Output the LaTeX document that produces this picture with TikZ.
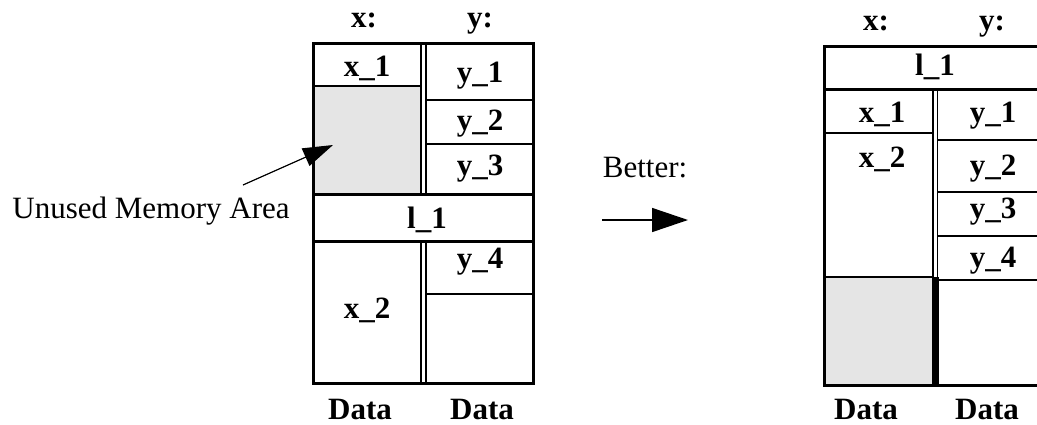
\documentclass[tikz,border=0pt]{standalone}
\usepackage{fontspec}
\setmainfont{Liberation Serif}
\usetikzlibrary{arrows.meta}
\definecolor{unused}{gray}{0.9}
\begin{document}
\begin{tikzpicture}[x=1pt,y=-1pt,
  lbl/.style={inner sep=0pt, anchor=base, font=\fontsize{31}{36}\selectfont\bfseries},
  foot/.style={lbl, text depth=0pt},
  plain/.style={inner sep=0pt, anchor=base, font=\fontsize{31}{36}\selectfont},
  frame/.style={line width=3pt},
  midrule/.style={line width=2.2pt},
  rule/.style={line width=1.5pt},
  dbl/.style={line width=1.4pt},
  pointer/.style={line width=1.2pt, -{Triangle[length=30pt,width=19pt]}},
  goes/.style={line width=1.5pt, -{Triangle[length=36pt,width=24pt]}}]
\useasboundingbox (0,0) rectangle (1037,424);
\begin{scope}
\clip (0,0) rectangle (1037,424);

% ---- first layout: l_1 placed between the x and y data ----
\fill[unused] (313,86) rectangle (421,194);
\draw[rule] (427,100) -- (533,100) (427,144) -- (533,144) (427,294) -- (533,294);
\draw[midrule] (313,86) -- (421,86);
\draw[dbl] (421,43) -- (421,194) (426,43) -- (426,194)
           (421,241) -- (421,383) (426,241) -- (426,383);
\draw[frame] (313,194) -- (533,194) (313,241) -- (533,241);
\draw[frame] (313,43) rectangle (533,383);

\node[lbl] (ax)  at (364,27)  {x:};
\node[lbl] (ay)  at (480,27)  {y:};
\node[lbl] (ax1) at (367,76)  {x\_1};
\node[lbl] (ay1) at (480,82)  {y\_1};
\node[lbl] (ay2) at (480,130) {y\_2};
\node[lbl] (ay3) at (480,175) {y\_3};
\node[lbl] (al1) at (427,228) {l\_1};
\node[lbl] (ay4) at (480,268) {y\_4};
\node[lbl] (ax2) at (367,318) {x\_2};
\node[foot] (ad1) at (360,419) {Data};
\node[foot] (ad2) at (482,419) {Data};

\node[plain] (unusedlbl) at (151,218) {Unused Memory Area};
\coordinate (unusedfrom) at (243,185);
\coordinate (unusedto) at (333,145);
\draw[pointer] (unusedfrom) -- (unusedto);

% ---- transition ----
\node[plain] (better) at (645,177) {Better:};
\coordinate (betterfrom) at (602,220);
\coordinate (betterto) at (688,220);
\draw[goes] (betterfrom) -- (betterto);

% ---- second layout: l_1 on top, free space gathered at the bottom ----
\fill[unused] (824,277) rectangle (933,385);
\draw[rule] (937,140) -- (1050,140) (937,192) -- (1050,192)
            (937,236) -- (1050,236) (937,280) -- (1050,280);
\draw[midrule] (824,133) -- (933,133) (824,277) -- (933,277);
\draw[dbl] (933,89) -- (933,277) (937.5,89) -- (937.5,277);
\fill (931.5,277) rectangle (938.5,385);
\draw[frame] (1050,46) -- (824,46) -- (824,385) -- (1050,385);
\draw[frame] (824,89) -- (1050,89);

\node[lbl] (bx)  at (876,30)  {x:};
\node[lbl] (by)  at (992,30)  {y:};
\node[lbl] (bl1) at (935,75)  {l\_1};
\node[lbl] (bx1) at (882,122) {x\_1};
\node[lbl] (bx2) at (882,167) {x\_2};
\node[lbl] (by1) at (993,122) {y\_1};
\node[lbl] (by2) at (993,175) {y\_2};
\node[lbl] (by3) at (993,218) {y\_3};
\node[lbl] (by4) at (993,267) {y\_4};
\node[foot] (bd1) at (866,419) {Data};
\node[foot] (bd2) at (987,419) {Data};
\end{scope}
\end{tikzpicture}
\end{document}
